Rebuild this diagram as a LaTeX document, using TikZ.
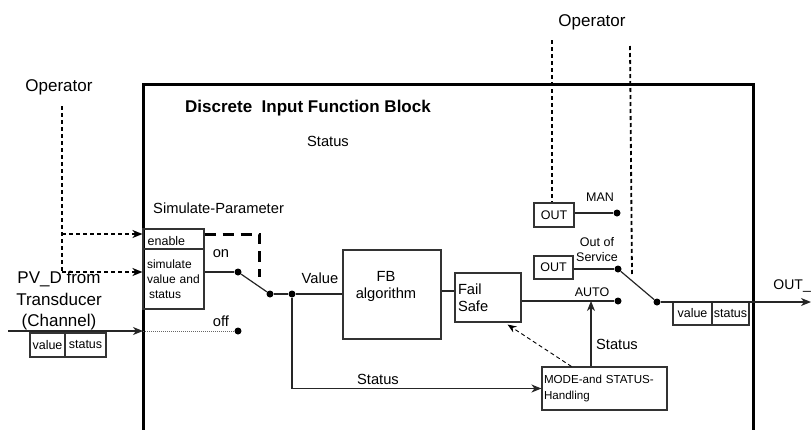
\documentclass[tikz,border=0pt]{standalone}
\usepackage{fontspec}
\setmainfont{Liberation Sans}
\usetikzlibrary{arrows.meta,calc}
\newcommand{\fsbig}{\fontsize{17}{21.5}\selectfont}
\newcommand{\fsmid}{\fontsize{14.7}{17}\selectfont}
\newcommand{\fssmall}{\fontsize{12.5}{15}\selectfont}
\newcommand{\fssim}{\fontsize{12}{15}\selectfont}
\newcommand{\fsmode}{\fontsize{11.6}{16}\selectfont}
\begin{document}
\begin{tikzpicture}[x=1pt,y=-1pt,
  ln/.style={line width=1.2pt, draw=black!85},
  box/.style={draw=black!80, line width=1.1pt, inner sep=0pt},
  dot/.style={circle, fill=black, inner sep=0pt, minimum size=7pt},
  arr/.style={-{Stealth[length=10pt,width=8pt,inset=3pt]}},
  opd/.style={line width=1.8pt, dash pattern=on 4pt off 3pt},
  tdash/.style={line width=3pt, dash pattern=on 11pt off 7pt},
  lbl/.style={inner sep=0pt}
]
\useasboundingbox (0,0) rectangle (812,429);

% main block
\coordinate (mbl) at (143,440);
\coordinate (mtl) at (143,84);
\coordinate (mtr) at (753,84);
\coordinate (mbr) at (753,440);
\draw[line width=3pt] (mbl) -- (mtl) -- (mtr) -- (mbr);

% titles and labels
\node[lbl, font=\fsbig\bfseries, anchor=west] (title) at (185,108) {Discrete\ \ Input Function Block};
\node[lbl, font=\fsmid] (stop) at (328,141) {Status};
\node[lbl, font=\fsbig] (op1) at (59,87) {Operator};
\node[lbl, font=\fsbig] (op2) at (592,22) {Operator};
\node[lbl, font=\fsmid, anchor=west] (simp) at (153,208) {Simulate-Parameter};

% simulate boxes
\node[box, minimum width=61pt, minimum height=20pt] (en) at (173.5,239) {};
\node[lbl, font=\fssmall, anchor=west] (ent) at ($(en.west)+(5,2)$) {enable};
\node[box, minimum width=61pt, minimum height=60pt, font=\fssim, align=left,
      inner xsep=4pt, text width=53pt] (sim) at (173.5,279) {simulate\\value and\\\hspace*{2pt}status};

% PV_D input
\node[lbl, font=\fsbig, align=center] (pv) at (59,301) {PV\_D from\\Transducer\\(Channel)};
\node[box, minimum width=35pt, minimum height=24pt, font=\fssmall] (pvv) at (47.5,345) {value};
\node[box, minimum width=41pt, minimum height=24pt, font=\fssmall] (pvs) at (85.5,345) {status};
\coordinate (pvin) at (8,331);
\coordinate (pvend) at (143,331);

% dots
\node[dot] (don) at (238,272) {};
\node[dot] (dsw) at (270,294) {};
\node[dot] (dj) at (292,294) {};
\node[dot] (doff) at (238,331) {};
\node[dot] (dman) at (617,213) {};
\node[dot] (doos) at (618,269) {};
\node[dot] (dauto) at (618,301) {};
\node[dot] (dout) at (657,302) {};

% function boxes
\node[box, minimum width=98pt, minimum height=89pt] (fb) at (392,294.5) {};
\node[lbl, font=\fsmid, align=center] (fbt) at (386,286) {FB\\algorithm};
\node[box, minimum width=66pt, minimum height=49pt, font=\fsmid, align=left,
      inner xsep=3pt, text width=60pt] (fs) at (488,297.5) {Fail\\Safe};
\node[box, minimum width=125pt, minimum height=43pt, font=\fsmode, align=left,
      inner xsep=2pt, text width=121pt] (mode) at (604.5,388.5) {MODE-and STATUS-\\Handling};
\node[box, minimum width=40pt, minimum height=24pt, font=\fssmall] (out1) at (554,215) {OUT};
\node[box, minimum width=39pt, minimum height=23pt, font=\fssmall] (out2) at (553.5,267.5) {OUT};
\node[box, minimum width=39pt, minimum height=23pt, font=\fssmall] (ov) at (692.5,313.5) {value};
\node[box, minimum width=37pt, minimum height=23pt, font=\fssmall] (os) at (730.5,313.5) {status};

% labels
\node[lbl, font=\fsmid] (on) at (221,254) {on};
\node[lbl, font=\fsmid] (off) at (221,321) {off};
\node[lbl, font=\fsmid] (val) at (320,278) {Value};
\node[lbl, font=\fsmid] (stb) at (378,379) {Status};
\node[lbl, font=\fsmid] (str) at (617,344) {Status};
\node[lbl, font=\fssmall] (auto) at (592,292) {AUTO};
\node[lbl, font=\fssmall] (man) at (600,197) {MAN};
\node[lbl, font=\fssmall, align=center] (oos) at (597,250) {Out of\\Service};
\node[lbl, font=\fontsize{14}{16}\selectfont, anchor=east] (outd) at (811,286) {OUT\_};

% connectors
\draw[ln, arr] (pvin) -- (pvend);
\draw[black!60, line width=0.9pt, dash pattern=on 1pt off 1pt] (pvend) -- (doff);

\coordinate (opl) at (62,106);
\coordinate (opla) at (62,234);
\coordinate (oplb) at (62,272);
\draw[opd] (opl) -- (oplb);
\draw[opd, arr] (opla) -- (en.west |- opla);
\draw[opd, arr] (oplb) -- (sim.west |- oplb);

\draw[tdash] ($(en.east)+(0,-5)$) -- ++(55,0) -- ++(0,43);

\draw[ln] (sim.east |- don) -- (don);
\draw[ln] (don) -- (dsw);
\draw[ln] (dsw) -- (dj);
\draw[ln] (dj) -- (fb.west |- dj);
\draw[ln, arr] (dj) |- (mode.west);

\coordinate (fsin) at ($(fs.west)+(0,-6.5)$);
\draw[ln] (fb.east |- fsin) -- (fsin);
\draw[ln] (fs.east |- dauto) -- (dauto);

\coordinate (stt) at (591,301);
\draw[ln, arr] (mode.north -| stt) -- (stt);

\coordinate (dsrc) at ($(mode.north west)+(30,0)$);
\coordinate (ddst) at ($(fs.south east)+(-14,2)$);
\draw[line width=0.9pt, dash pattern=on 4pt off 3pt, -{Stealth[length=9pt,width=7pt,inset=3pt]}] (dsrc) -- (ddst);

\draw[ln] (out1.east |- dman) -- (dman);
\draw[ln] (out2.east |- doos) -- (doos);
\draw[ln] (doos) -- (dout);
\coordinate (oend) at (811,302);
\draw[ln, arr] (dout) -- (oend);

\coordinate (opr1) at (552,40);
\draw[opd] (opr1) -- (out1.north -| opr1);
\coordinate (opr2a) at (630,46);
\coordinate (opr2b) at (632,275);
\draw[opd] (opr2a) -- (opr2b);
\end{tikzpicture}
\end{document}
